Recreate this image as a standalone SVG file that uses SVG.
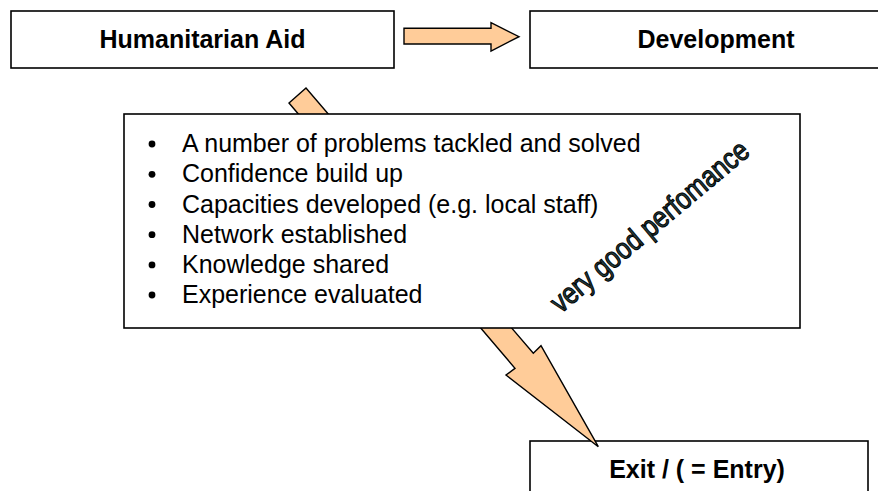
<svg xmlns="http://www.w3.org/2000/svg" width="878" height="491" viewBox="0 0 878 491">
<style>
.box{fill:#fff;stroke:#000;stroke-width:1.6}
.arrow{fill:#FFCC99;stroke:#000;stroke-width:1.4;stroke-linejoin:miter}
.title{font-family:"Liberation Sans",Arial,sans-serif;font-weight:bold;font-size:25px;fill:#000;text-anchor:middle}
.item{font-family:"Liberation Sans",Arial,sans-serif;font-size:25px;fill:#000}
.wa{font-family:"Liberation Sans",Arial,sans-serif;font-size:30px;fill:#24403f;stroke:#000;stroke-width:1.1;text-anchor:middle}
</style>
<rect width="878" height="491" fill="#fff"/>
<g id="humanitarian-aid">
<rect class="box" x="11" y="11" width="383" height="57"/>
<text class="title" x="202.5" y="48">Humanitarian Aid</text>
</g>
<g id="development">
<rect class="box" x="530" y="11" width="372" height="57"/>
<text class="title" x="716" y="48">Development</text>
</g>
<g id="exit">
<rect class="box" x="530" y="441" width="338" height="70"/>
<text class="title" x="697" y="478">Exit / ( = Entry)</text>
</g>
<g id="connectors">
<polygon class="arrow" points="404,28.3 491,28.3 491,22.7 519,36.7 491,51 491,44 404,44"/>
<polygon class="arrow" points="289,103 306,88 533.3,353.3 541,345.7 598.3,446.7 506,375 515,368.3"/>
</g>
<g id="results">
<rect class="box" x="124" y="114" width="676" height="214"/>
<g fill="#000">
<circle cx="152" cy="144" r="3.4"/>
<circle cx="152" cy="174.3" r="3.4"/>
<circle cx="152" cy="204.5" r="3.4"/>
<circle cx="152" cy="234.7" r="3.4"/>
<circle cx="152" cy="264.9" r="3.4"/>
<circle cx="152" cy="295" r="3.4"/>
</g>
<text class="item" x="182" y="152">A number of problems tackled and solved</text>
<text class="item" x="182" y="182.3">Confidence build up</text>
<text class="item" x="182" y="212.5">Capacities developed (e.g. local staff)</text>
<text class="item" x="182" y="242.7">Network established</text>
<text class="item" x="182" y="272.9">Knowledge shared</text>
<text class="item" x="182" y="303">Experience evaluated</text>
<text class="wa" transform="translate(656,234) rotate(-40)" textLength="249" lengthAdjust="spacingAndGlyphs">very good perfomance</text>
</g>
</svg>
